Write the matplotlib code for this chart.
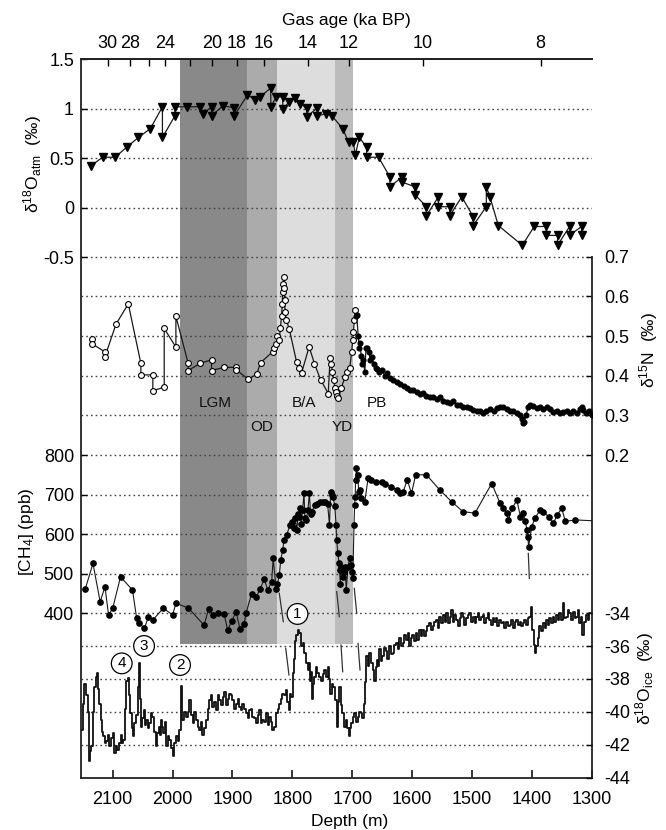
import matplotlib
matplotlib.use('Agg')
import matplotlib.pyplot as plt

plt.rcParams['font.family'] = ['Liberation Sans', 'DejaVu Sans']
plt.rcParams['mathtext.fontset'] = 'custom'
plt.rcParams['mathtext.rm'] = 'Liberation Sans'
plt.rcParams['mathtext.it'] = 'Liberation Sans:italic'
plt.rcParams['mathtext.bf'] = 'Liberation Sans:bold'

# ---------------- data ----------------
# d18O_atm (permil), filled triangles
atm_depth = [2137, 2117, 2096, 2077, 2057, 2037, 2017, 2017, 1996, 1996, 1976, 1954, 1949,
             1935, 1935, 1916, 1897, 1897, 1875, 1862, 1854, 1836, 1836, 1827, 1816, 1816,
             1805, 1795, 1787, 1776, 1776, 1758, 1758, 1743, 1734, 1716, 1706, 1698, 1695,
             1688, 1676, 1676, 1656, 1637, 1637, 1617, 1617, 1595, 1595, 1576, 1576, 1556,
             1556, 1537, 1537, 1517, 1498, 1498, 1476, 1476, 1470, 1456, 1416, 1396, 1376,
             1376, 1357, 1357, 1337, 1337, 1317, 1317]
atm_val = [0.42, 0.51, 0.51, 0.61, 0.71, 0.80, 1.02, 0.71, 0.93, 1.02, 1.02, 1.02, 0.95,
           1.02, 0.93, 1.03, 1.01, 0.93, 1.14, 1.09, 1.12, 1.21, 1.02, 1.12, 1.12, 1.00,
           1.07, 1.11, 1.05, 1.01, 0.92, 1.01, 0.93, 0.95, 0.93, 0.80, 0.66, 0.66, 0.53,
           0.71, 0.61, 0.51, 0.51, 0.31, 0.21, 0.31, 0.26, 0.21, 0.13, 0.01, -0.08, 0.11,
           0.01, 0.01, -0.08, 0.11, -0.09, -0.18, 0.01, 0.21, 0.11, -0.18, -0.38, -0.19, -0.19,
           -0.28, -0.28, -0.38, -0.19, -0.28, -0.19, -0.28]

# d15N (permil), open circles (glacial / deglacial section)
n15o_depth = [2134, 2134, 2113, 2113, 2094.5, 2074, 2053, 2053, 2033, 2033, 2014, 2014,
              1994.5, 1994.5, 1974, 1974, 1954, 1935, 1935, 1914, 1894, 1894, 1873.5,
              1859.5, 1853, 1833, 1830, 1827, 1825, 1822, 1820, 1818, 1817, 1816, 1815,
              1814.5, 1814, 1813, 1812, 1810, 1805, 1793, 1789, 1784.5, 1772, 1763, 1752.6,
              1740, 1737, 1735, 1733, 1731, 1729, 1727, 1725, 1723, 1718, 1712, 1708, 1704,
              1701, 1699, 1698, 1696.5, 1695.3]
n15o_val = [0.492, 0.480, 0.460, 0.448, 0.530, 0.581, 0.431, 0.402, 0.402, 0.362, 0.371,
            0.519, 0.472, 0.550, 0.431, 0.413, 0.431, 0.440, 0.413, 0.421, 0.421, 0.415,
            0.391, 0.404, 0.433, 0.460, 0.47, 0.48, 0.50, 0.49, 0.52, 0.55, 0.58, 0.61,
            0.63, 0.65, 0.62, 0.59, 0.56, 0.54, 0.517, 0.435, 0.42, 0.407, 0.473, 0.43,
            0.389, 0.355, 0.445, 0.43, 0.41, 0.39, 0.37, 0.36, 0.35, 0.343, 0.37, 0.397,
            0.41, 0.42, 0.46, 0.49, 0.51, 0.54, 0.566]

# d15N (permil), filled dots (Holocene section)
n15f_depth = [1694, 1692.5, 1690, 1688, 1687, 1685, 1683, 1681.5, 1679, 1677, 1675, 1672,
              1670, 1667.5, 1664, 1661, 1659, 1655, 1650, 1646, 1642, 1637, 1632, 1626,
              1620, 1614, 1608, 1603, 1598, 1592, 1587, 1581, 1576, 1570, 1565, 1559, 1553,
              1548, 1542, 1537, 1531, 1525, 1520, 1514.5, 1509, 1503, 1498, 1492, 1487,
              1481, 1476, 1470, 1464, 1459, 1453, 1448, 1442, 1436, 1431, 1425, 1420, 1417,
              1415, 1413, 1410, 1406, 1403, 1398, 1392, 1386, 1381, 1375, 1370, 1364, 1358,
              1353, 1347.5, 1342, 1336, 1331, 1325, 1320, 1317, 1314, 1309, 1304, 1300]
n15f_val = [0.55, 0.553, 0.50, 0.47, 0.482, 0.45, 0.43, 0.44, 0.41, 0.47, 0.47, 0.46,
            0.44, 0.448, 0.43, 0.42, 0.418, 0.41, 0.415, 0.40, 0.406, 0.395, 0.39, 0.385,
            0.38, 0.375, 0.37, 0.365, 0.364, 0.36, 0.355, 0.357, 0.35, 0.347, 0.345, 0.34,
            0.345, 0.336, 0.334, 0.33, 0.335, 0.326, 0.325, 0.322, 0.32, 0.318, 0.313,
            0.31, 0.312, 0.305, 0.31, 0.315, 0.31, 0.318, 0.322, 0.322, 0.315, 0.312, 0.31,
            0.306, 0.301, 0.29, 0.28, 0.282, 0.30, 0.32, 0.326, 0.324, 0.318, 0.32, 0.315,
            0.322, 0.315, 0.308, 0.312, 0.305, 0.309, 0.31, 0.305, 0.31, 0.306, 0.315, 0.322,
            0.313, 0.305, 0.31, 0.301]

# [CH4] (ppb)
ch4_depth = [2146, 2133, 2121, 2113, 2107, 2100, 2087, 2067, 2060, 2056, 2047, 2040.5, 2033,
             2015.5, 2000, 1994.5, 1974, 1947.5, 1940, 1932, 1925, 1914, 1908, 1901, 1894,
             1887.4, 1880.7, 1877, 1868, 1860.7, 1854, 1847, 1841, 1834.5, 1832, 1827, 1825,
             1821.7, 1819.4, 1816, 1814, 1809.4, 1804, 1800, 1797, 1795, 1792.7, 1790,
             1788.4, 1787, 1785, 1783, 1780.5, 1779, 1777, 1774, 1771.6, 1769.5, 1767.6,
             1762, 1758, 1753.8, 1749, 1745.4, 1741, 1738, 1736, 1734, 1732, 1729, 1727,
             1726, 1724, 1722, 1721, 1720, 1718.7, 1716, 1714, 1712, 1710, 1707, 1704.5,
             1702, 1700, 1699, 1697, 1696, 1695, 1694.5, 1693, 1691, 1689, 1687, 1684.5,
             1679, 1673.5, 1668, 1659.5, 1651, 1645.5, 1634.4, 1626, 1620.5, 1615, 1608,
             1601, 1594, 1576, 1554, 1534, 1515, 1495, 1467, 1453, 1447.6, 1442, 1439, 1433,
             1425, 1419, 1414, 1411, 1408, 1406.5, 1405.5, 1400, 1395, 1386, 1381, 1372,
             1364, 1358, 1350, 1344, 1328]
ch4_val = [461, 526, 429, 467, 396, 413, 492, 459, 387, 375, 362, 391, 383,
           413, 396, 425, 414, 370, 410, 396, 402, 398, 358, 381, 404,
           360, 373, 402, 450, 440, 461, 486, 459, 480, 539, 461, 475,
           497, 535, 560, 585, 598, 623, 630, 615, 640, 610, 650,
           644, 665, 625, 660, 703, 640, 636, 660, 703, 650, 657,
           674, 675, 682, 680, 682, 675, 623, 707, 700, 695, 670, 623,
           585, 552, 526, 509, 475, 518, 492, 505, 518, 459, 518, 539,
           522, 505, 490, 623, 674, 695, 737, 766, 749, 707, 712, 691,
           682, 741, 737, 733, 733, 728, 720, 712, 703, 707, 737,
           703, 750, 750, 712, 682, 657, 653, 728, 678, 665, 653, 636, 665,
           686, 644, 653, 632, 611, 594, 568, 619, 640, 661, 657, 644,
           627, 648, 665, 632, 636]
ch4_tail_depth = [1328, 1300]
ch4_tail_val = [636, 634]

# d18O_ice (permil)
ice_depth = [2151.8, 2149, 2146.3, 2143.4, 2140.8, 2139.1, 2137, 2135.1, 2132, 2129.6,
             2127.5, 2125.7, 2123.5, 2121.2, 2118.4, 2116.5, 2114.5, 2112, 2110, 2107,
             2104.5, 2101.5, 2099, 2096.2, 2093.5, 2090.6, 2088, 2085, 2083, 2081.1,
             2078.8, 2076.6, 2073.9, 2071.5, 2069.4, 2067.5, 2065.6, 2062.8, 2059, 2057.3,
             2055.6, 2053.6, 2051.6, 2049.5, 2047.7, 2045.5, 2043.2, 2040.5, 2037.7, 2035,
             2032.2, 2029.3, 2026.5, 2024.3, 2022.2, 2020.2, 2018.2, 2016.2, 2014.3, 2012,
             2009.8, 2007, 2004.3, 2001.5, 1998.8, 1996, 1993.1, 1990.3, 1987.6, 1986,
             1984.8, 1983.1, 1980, 1976.4, 1973.5, 1970.9, 1968, 1965.4, 1962.5, 1959.7,
             1957, 1954.2, 1951.5, 1948.7, 1946, 1943, 1940, 1937.5, 1935, 1932,
             1929, 1926.3, 1923.5, 1920.8, 1918, 1915.3, 1912.5, 1909.6, 1907, 1904.1,
             1901.4, 1898.6, 1895.8, 1892.9, 1890, 1887.4, 1884.7, 1881.9, 1879, 1876.2,
             1873.5, 1870.7, 1868, 1865.2, 1862.3, 1859.5, 1856.8, 1854, 1851.3, 1848.5,
             1845.6, 1842.8, 1840, 1837.3, 1834.5, 1831.8, 1829, 1826.1, 1823.3, 1820.6,
             1818, 1815.1, 1812.2, 1809.4, 1807.2, 1805, 1803, 1801, 1798.4, 1797,
             1795.5, 1794, 1792.7, 1790, 1787.2, 1784.3, 1781.5, 1778.8, 1776, 1773.3,
             1771.3, 1769.3, 1767.6, 1766, 1764, 1762.1, 1759.4, 1756.6, 1753.8, 1750.9,
             1748, 1745.4, 1742.6, 1739.9, 1737.9, 1735.9, 1733, 1730.4, 1727.6, 1724.9,
             1722.6, 1720.4, 1717.6, 1714.9, 1712, 1709.2, 1707, 1704.8, 1702.8, 1700.8,
             1698, 1695.3, 1692.5, 1689.8, 1687, 1684.1, 1682, 1680.3, 1678, 1675.8,
             1673, 1670.3, 1667, 1664.8, 1661.9, 1660, 1658.1, 1656, 1653.6, 1651,
             1648.1, 1645, 1642.4, 1640, 1636.9, 1634, 1631.4, 1628, 1625.7, 1623,
             1620.2, 1617, 1614.7, 1612, 1609, 1606, 1603.5, 1601, 1598, 1595,
             1592.3, 1590, 1586.8, 1584, 1581.3, 1578, 1575.6, 1573, 1570.1, 1567,
             1564.6, 1562, 1558.9, 1556, 1553.4, 1550, 1547, 1544, 1542.2, 1539,
             1536, 1533.8, 1531, 1528, 1525.5, 1522, 1519, 1516, 1514.4, 1511,
             1508, 1505, 1503.3, 1500, 1497, 1494, 1492.1, 1489, 1486, 1483,
             1481.1, 1478, 1475, 1472, 1469.9, 1467, 1464, 1461, 1458.7, 1456,
             1453, 1450, 1447.7, 1444, 1441, 1438, 1436.4, 1433, 1430, 1427,
             1425.3, 1422, 1419, 1416, 1414.2, 1411, 1408, 1405, 1403.1, 1400.3,
             1398, 1396.4, 1393.6, 1391, 1389.2, 1386.3, 1383, 1380, 1377, 1375.2,
             1372, 1369, 1366, 1364.1, 1361, 1358, 1355, 1352.9, 1350, 1347.4,
             1345, 1341.8, 1339, 1336.3, 1333, 1330, 1327, 1325.1, 1322, 1319.6,
             1317, 1314.1, 1311, 1308.4, 1305, 1302.9]
ice_val = [-41.1, -39.5, -38.3, -39.0, -40.0, -43.0, -42.4, -42.1, -40.0, -38.5,
           -37.9, -37.65, -38.6, -39.5, -40.5, -41.2, -41.5, -41.9, -41.8, -41.4,
           -42.1, -41.6, -41.3, -42.5, -42.1, -42.3, -41.9, -41.4, -41.9, -41.7,
           -39.8, -38.1, -37.95, -39.0, -40.1, -41.0, -41.5, -40.7, -40.2, -38.5,
           -37.05, -39.2, -40.9, -40.4, -39.9, -40.8, -40.5, -41.0, -40.7, -40.1,
           -40.3, -41.2, -42.1, -41.3, -40.9, -41.4, -40.5, -40.9, -41.3, -40.6,
           -42.1, -41.5, -41.7, -42.2, -42.7, -41.9, -41.5, -41.8, -41.1, -40.2,
           -38.4, -40.5, -40.0, -40.3, -40.0, -39.3, -40.2, -40.7, -40.0, -40.5,
           -40.9, -41.1, -40.6, -41.4, -41.0, -40.5, -39.8, -39.3, -39.0, -39.7,
           -39.4, -39.9, -39.0, -39.3, -39.6, -39.1, -38.8, -39.6, -39.2, -38.9,
           -39.0, -39.3, -39.8, -39.5, -39.2, -39.7, -39.9, -39.5, -39.8, -40.1,
           -40.4, -39.9, -39.8, -40.3, -40.4, -40.7, -40.2, -39.9, -40.7, -40.5,
           -40.6, -40.1, -40.8, -40.3, -40.6, -41.1, -40.9, -40.1, -39.8, -39.5,
           -39.2, -38.9, -39.0, -38.7, -39.4, -39.9, -38.9, -39.1, -37.65, -36.8,
           -36.2, -35.7, -35.3, -35.0, -35.2, -36.0, -35.8, -36.4, -37.0, -37.45,
           -37.0, -38.1, -37.6, -39.2, -38.3, -37.9, -37.3, -37.65, -37.9, -38.1,
           -37.7, -37.45, -37.9, -37.25, -38.0, -38.9, -38.3, -38.5, -39.3, -40.9,
           -39.4, -38.5, -39.6, -40.1, -40.9, -40.5, -41.0, -41.5, -41.0, -40.7,
           -40.3, -40.1, -40.6, -40.3, -40.0, -40.1, -40.4, -39.5, -38.2, -36.6,
           -37.2, -36.4, -37.0, -37.45, -38.1, -37.3, -36.85, -37.2, -36.2, -36.9,
           -36.6, -36.1, -36.3, -36.8, -36.0, -36.5, -36.4, -35.9, -35.8, -36.2,
           -35.5, -36.0, -35.8, -35.3, -35.6, -35.2, -36.0, -35.5, -35.3, -35.7,
           -35.2, -35.6, -35.0, -35.4, -35.0, -35.4, -35.1, -34.8, -34.6, -35.0,
           -34.8, -34.5, -34.4, -34.9, -34.2, -34.6, -34.1, -34.5, -34.0, -34.6,
           -34.2, -33.8, -34.5, -34.1, -34.4, -34.8, -34.3, -34.0, -34.2, -34.7,
           -34.3, -34.1, -34.0, -34.5, -34.2, -34.6, -34.2, -34.0, -34.4, -34.2,
           -34.1, -34.6, -34.3, -34.0, -34.4, -34.7, -34.3, -34.5, -34.3, -34.8,
           -34.4, -34.6, -34.5, -34.9, -34.5, -34.8, -34.7, -34.4, -34.9, -34.5,
           -34.4, -34.7, -34.5, -34.8, -34.6, -34.4, -34.7, -34.3, -34.2, -33.6,
           -35.0, -35.9, -36.4, -36.0, -35.5, -34.8, -35.1, -34.6, -34.9, -34.4,
           -34.7, -34.3, -34.6, -34.2, -34.5, -34.1, -34.4, -34.0, -34.4, -33.4,
           -34.3, -34.2, -33.8, -34.0, -34.4, -33.9, -34.3, -34.2, -33.8, -34.6,
           -34.2, -35.3, -34.5, -34.1, -34.4, -34.0]

# tie lines (depth, d18O_ice-scale value) pairs
tie_depth = [(1821.8, 1815.1), (1811.1, 1805.6), (1725.9, 1721.5), (1718.7, 1715.9),
             (1696.5, 1692.5), (1690.3, 1687.0), (1405.9, 1404.2)]
tie_val = [(-32.78, -34.51), (-36.13, -37.76), (-32.68, -34.21), (-35.93, -37.56),
           (-32.48, -34.0), (-35.83, -37.45), (-30.35, -31.87)]

# gas-age axis (ticks placed at depths)
age_tick_depth = [2108.7, 2071.1, 2039.4, 2012.7, 1970.9, 1934.2, 1892.4, 1847.3, 1773.8,
                  1705.3, 1582.3, 1385.5]
age_tick_label = ['30', '28', '', '24', '', '20', '18', '16', '14', '12', '10', '8']

# climate periods shading (depth bounds)
period_bounds = [(1987.6, 1876.2), (1876.2, 1825.1), (1825.1, 1728.7), (1728.7, 1698.2)]
period_colors = ['#898989', '#ababab', '#dddddd', '#bcbcbc']
period_names = ['LGM', 'OD', 'B/A', 'YD', 'PB']
period_label_depth = [1929, 1851, 1780.5, 1717, 1659]
period_label_val = [0.331, 0.271, 0.331, 0.271, 0.331]

# circled event numbers
event_labels = ['1', '2', '3', '4']
event_depth = [1791.4, 1987.6, 2047.7, 2085.0]
event_val = [-34.04, -37.15, -35.99, -37.05]

depth_ticks = [2100, 2000, 1900, 1800, 1700, 1600, 1500, 1400, 1300]
atm_ticks = [1.5, 1, 0.5, 0, -0.5]
n15_ticks = [0.7, 0.6, 0.5, 0.4, 0.3, 0.2]
ch4_ticks = [800, 700, 600, 500, 400]
ice_ticks = [-34, -36, -38, -40, -42, -44]

# ---------------- layout ----------------
W, H = 666, 830
fig = plt.figure(figsize=(W / 100, H / 100), dpi=100)
L, R, T, B = 81, 592, 59.3, 777.5
ax = fig.add_axes([L / W, 1 - B / H, (R - L) / W, (B - T) / H])
ax.set_xlim(2153, 1299.5)
ax.set_ylim(-5.7596, 1.4949)

ax_n = ax.twinx()
ax_n.set_ylim(-0.61316, 1.19773)
ax_c = ax.twinx()
ax_c.set_ylim(-14.9, 1799.9)
ax_i = ax.twinx()
ax_i.set_ylim(-44.0, -0.26)

FS = 13
grid_kw = dict(color='#444444', lw=1.0, ls=(0, (1.2, 2.2)), zorder=1)
line_c = '#1a1a1a'

# shading
for (d0, d1), c in zip(period_bounds, period_colors):
    ax.axvspan(d0, d1, ymin=0.1859, ymax=1.0, color=c, lw=0, zorder=0)

# gridlines
for v in [1, 0.5, 0, -0.5]:
    ax.axhline(v, **grid_kw)
for v in [0.6, 0.5, 0.4, 0.3, 0.2]:
    ax_n.axhline(v, **grid_kw)
for v in [700, 600, 500, 400]:
    ax_c.axhline(v, **grid_kw)
for v in [-36, -38, -40, -42]:
    ax_i.axhline(v, **grid_kw)

# series
ax.plot(atm_depth, atm_val, color=line_c, lw=0.9, marker='v', ms=5.5, mfc='black',
        mec='black', zorder=3)
ax_n.plot(n15o_depth, n15o_val, color=line_c, lw=0.9, marker='o', ms=4.2, mfc='white',
          mec='black', mew=0.8, zorder=3)
ax_n.plot(n15f_depth, n15f_val, color=line_c, lw=0.9, marker='o', ms=3.4, mfc='black',
          mec='black', zorder=3)
ax_c.plot(ch4_depth, ch4_val, color=line_c, lw=0.8, marker='o', ms=3.8, mfc='black',
          mec='black', zorder=3)
ax_c.plot(ch4_tail_depth, ch4_tail_val, color=line_c, lw=0.8, zorder=3)
ax_i.plot(ice_depth, ice_val, color='#111111', lw=1.3, drawstyle='steps-mid', zorder=3)
for dd, vv in zip(tie_depth, tie_val):
    ax_i.plot(dd, vv, color='#333333', lw=0.9, zorder=3)

# labels in shading
for name, d, v in zip(period_names, period_label_depth, period_label_val):
    ax_n.text(d, v, name, ha='center', va='center', fontsize=11, color='#111111', zorder=5)

# circled numbers
for lab, d, v in zip(event_labels, event_depth, event_val):
    ax_i.text(d, v, lab, ha='center', va='center', fontsize=11, zorder=6,
              bbox=dict(boxstyle='circle,pad=0.22', fc='white', ec='black', lw=0.9))

# ---------------- axes styling ----------------
for a in (ax_n, ax_c, ax_i):
    for s in a.spines.values():
        s.set_visible(False)
ax.spines['right'].set_visible(False)
ax_n.spines['right'].set_visible(True)
ax_n.spines['right'].set_bounds(-0.61316, 0.7)
for s in ('left', 'top', 'bottom'):
    ax.spines[s].set_linewidth(1.3)
    ax.spines[s].set_color('#222222')
ax_n.spines['right'].set_linewidth(1.3)
ax_n.spines['right'].set_color('#222222')

ax.set_xticks(depth_ticks)
ax.set_xticklabels([str(t) for t in depth_ticks])
ax.tick_params(axis='x', direction='in', length=6, width=1.1, labelsize=FS, pad=10,
               bottom=True, top=False)
ax.set_yticks(atm_ticks)
ax.set_yticklabels(['1.5', '1', '0.5', '0', '-0.5'])
ax.tick_params(axis='y', direction='in', length=4, width=1.0, labelsize=FS, pad=5,
               left=True, right=False)

ax_n.set_yticks(n15_ticks)
ax_n.set_yticklabels(['0.7', '0.6', '0.5', '0.4', '0.3', '0.2'])
ax_n.tick_params(axis='y', direction='in', length=4, width=1.0, labelsize=FS, pad=9)

ax_c.yaxis.tick_left()
ax_c.set_yticks(ch4_ticks)
ax_c.set_yticklabels([str(t) for t in ch4_ticks])
ax_c.tick_params(axis='y', direction='in', length=4, width=1.0, labelsize=FS, pad=5)

ax_i.set_yticks(ice_ticks)
ax_i.set_yticklabels([str(t) for t in ice_ticks])
ax_i.tick_params(axis='y', direction='in', length=4, width=1.0, labelsize=FS, pad=9)

secax = ax.secondary_xaxis('top')
secax.set_xticks(age_tick_depth, labels=age_tick_label)
secax.tick_params(axis='x', direction='in', length=5, width=1.0, labelsize=FS, pad=5)
secax.spines['top'].set_linewidth(1.3)
secax.spines['top'].set_color('#222222')

# axis titles
def fx(px):
    return px / W

def fy(py):
    return 1 - py / H

fig.text(fx(346), fy(20), 'Gas age (ka BP)', ha='center', va='center', fontsize=12.5)
fig.text(fx(350), fy(821), 'Depth (m)', ha='center', va='center', fontsize=12.5)
fig.text(fx(33), fy(164), r'δ$^{18}$O$_{\mathrm{atm}}$  (‰)', ha='center', va='center',
         rotation=90, fontsize=12.5)
fig.text(fx(26), fy(532), r'[CH$_4$] (ppb)', ha='center', va='center', rotation=90,
         fontsize=12.5)
fig.text(fx(649), fy(350), r'δ$^{15}$N  (‰)', ha='center', va='center', rotation=90,
         fontsize=12.5)
fig.text(fx(645), fy(678), r'δ$^{18}$O$_{\mathrm{ice}}$  (‰)', ha='center', va='center',
         rotation=90, fontsize=12.5)

fig.savefig('out.png', dpi=100)
